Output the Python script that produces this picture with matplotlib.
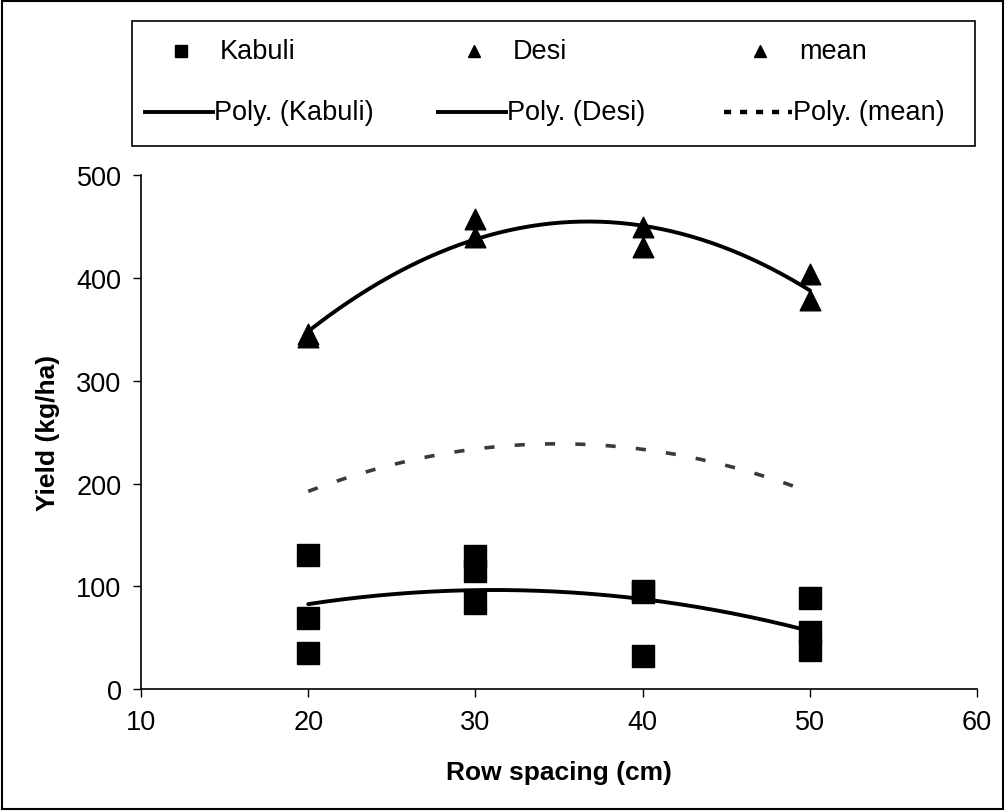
import numpy as np
import matplotlib.pyplot as plt
from matplotlib.lines import Line2D
from matplotlib.patches import Rectangle

plt.rcParams['font.family'] = ['Liberation Sans', 'DejaVu Sans']

# row spacing (cm) and plot yields (kg/ha)
kabuli_x = [20, 20, 20, 30, 30, 30, 40, 40, 40, 50, 50, 50]
kabuli_y = [131, 69, 35, 130, 115, 84, 95, 96, 32, 89, 56, 38]
desi_x = [20, 20, 30, 30, 40, 40, 50, 50]
desi_y = [343, 346, 457, 440, 450, 430, 404, 379]
mean_x = [20, 30, 40, 50]
mean_y = [192, 235, 232, 192]

xticks = [10, 20, 30, 40, 50, 60]
yticks = [0, 100, 200, 300, 400, 500]

W, H = 1005, 812
fig = plt.figure(figsize=(W / 100, H / 100), dpi=100)
ax = fig.add_axes([0.1403, 0.150, 0.832, 0.633])

xs = np.linspace(20, 50, 200)
mean_dash = (0, (2.8, 5.6))

ax.scatter(kabuli_x, kabuli_y, marker='s', s=240, color='black', zorder=3)
ax.scatter(desi_x, desi_y, marker='^', s=220, color='black', zorder=3)

k_fit = np.polyfit(kabuli_x, kabuli_y, 2)
d_fit = np.polyfit(desi_x, desi_y, 2)
m_fit = np.polyfit(mean_x, mean_y, 2)
ax.plot(xs, np.polyval(k_fit, xs), color='black', lw=2.8, solid_capstyle='round')
ax.plot(xs, np.polyval(d_fit, xs), color='black', lw=2.8, solid_capstyle='round')
ax.plot(xs, np.polyval(m_fit, xs), color='#3a3a3a', lw=2.6, linestyle=mean_dash)

ax.set_xlim(10, 60)
ax.set_ylim(0, 500)
ax.set_xticks(xticks)
ax.set_yticks(yticks)
ax.spines['top'].set_visible(False)
ax.spines['right'].set_visible(False)
for s in ['left', 'bottom']:
    ax.spines[s].set_linewidth(1.2)
ax.tick_params(direction='out', length=6, width=1.0, labelsize=19.5)
ax.tick_params(axis='x', pad=8)
ax.tick_params(axis='y', pad=8)
ax.set_xlabel('Row spacing (cm)', fontsize=19, fontweight='bold', labelpad=18)
ax.set_ylabel('Yield (kg/ha)', fontsize=19, fontweight='bold', labelpad=12)


def px(x, y):
    # pixel position (from top-left) to figure fraction
    return x / W, 1 - y / H


# legend box, drawn by hand: 3 columns x 2 rows
x0, y0 = px(132, 147)
x1, y1 = px(975, 22)
fig.add_artist(Rectangle((x0, y0), x1 - x0, y1 - y0, transform=fig.transFigure,
                         fill=False, edgecolor='black', lw=1.2))

row1, row2 = 52, 113
key_w = 68
columns = [
    (145, 's', 'Kabuli', '-', 'Poly. (Kabuli)'),
    (438, '^', 'Desi', '-', 'Poly. (Desi)'),
    (724, '^', 'mean', (0, (1.6, 2.0)), 'Poly. (mean)'),
]
for kx, m, label1, ls, label2 in columns:
    # marker entry, centred in the key area
    fx, fy = px(kx + key_w / 2 + 2, row1)
    fig.add_artist(Line2D([fx], [fy], marker=m, color='black', markersize=9,
                          linestyle='none', transform=fig.transFigure))
    tx, ty = px(kx + key_w + 7, row1)
    fig.text(tx, ty, label1, fontsize=19.5, va='center', ha='left')
    # trend-line entry
    fa, fy = px(kx, row2)
    fb, _ = px(kx + key_w, row2)
    fig.add_artist(Line2D([fa, fb], [fy, fy], color='black', lw=2.8 if ls == '-' else 3.2,
                          linestyle=ls, transform=fig.transFigure))
    tx, ty = px(kx + key_w + 1, row2)
    fig.text(tx, ty, label2, fontsize=19.5, va='center', ha='left')

# chart-area border
fig.add_artist(Rectangle((0.002, 0.002), 0.996, 0.996, transform=fig.transFigure,
                         fill=False, edgecolor='black', lw=1.5))

fig.savefig('out.png', dpi=100)
